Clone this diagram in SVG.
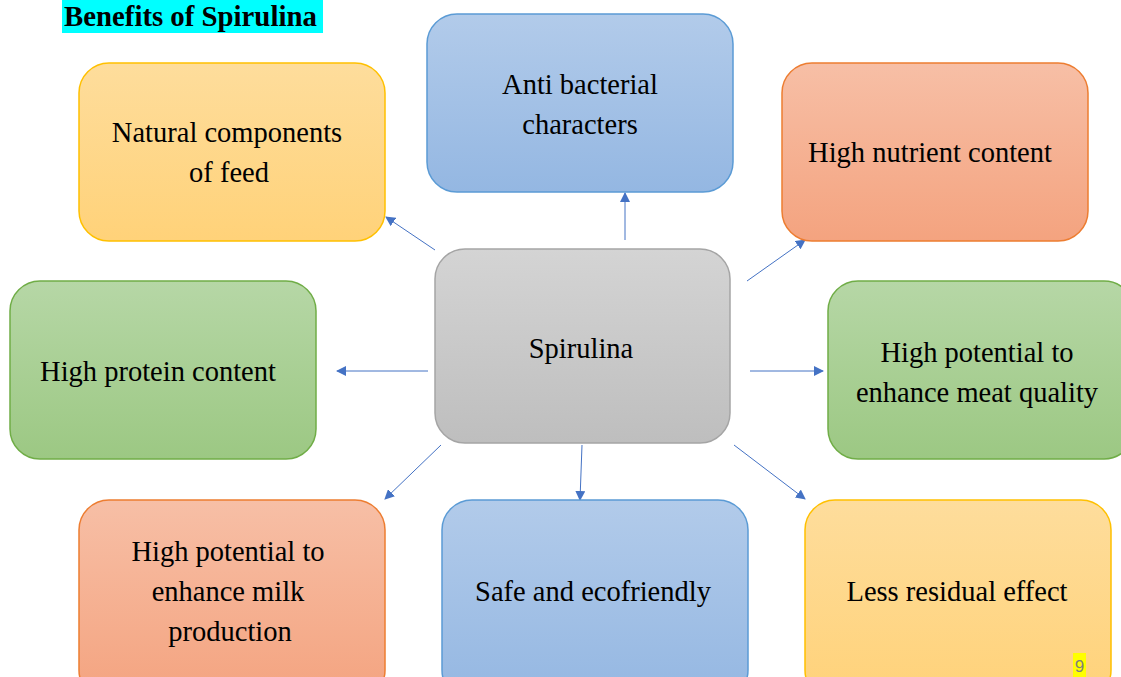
<svg xmlns="http://www.w3.org/2000/svg" width="1121" height="677" viewBox="0 0 1121 677">
<defs>
<linearGradient id="gY" x1="0" y1="0" x2="0" y2="1"><stop offset="0" stop-color="#fedd9c"/><stop offset="1" stop-color="#ffd279"/></linearGradient>
<linearGradient id="gB" x1="0" y1="0" x2="0" y2="1"><stop offset="0" stop-color="#b2cbea"/><stop offset="1" stop-color="#94b7e2"/></linearGradient>
<linearGradient id="gO" x1="0" y1="0" x2="0" y2="1"><stop offset="0" stop-color="#f7bfa6"/><stop offset="1" stop-color="#f4a37f"/></linearGradient>
<linearGradient id="gG" x1="0" y1="0" x2="0" y2="1"><stop offset="0" stop-color="#b6d7a6"/><stop offset="1" stop-color="#9cc883"/></linearGradient>
<linearGradient id="gS" x1="0" y1="0" x2="0" y2="1"><stop offset="0" stop-color="#d4d4d4"/><stop offset="1" stop-color="#bebebe"/></linearGradient>
<marker id="arr" viewBox="0 0 10 10" refX="9" refY="5" markerWidth="10" markerHeight="10" markerUnits="userSpaceOnUse" orient="auto"><path d="M0,0 L10,5 L0,10 z" fill="#4472c4"/></marker>
</defs>
<style>
.t{font-family:"Liberation Serif","Times New Roman",serif;font-size:28.5px;fill:#000;text-anchor:middle}
.y{fill:url(#gY);stroke:#ffc000;stroke-width:1.5}
.b{fill:url(#gB);stroke:#5b9bd5;stroke-width:1.5}
.o{fill:url(#gO);stroke:#ed7d31;stroke-width:1.5}
.g{fill:url(#gG);stroke:#70ad47;stroke-width:1.5}
.s{fill:url(#gS);stroke:#a5a5a5;stroke-width:1.5}
.c{stroke:#4472c4;stroke-width:1;fill:none;marker-end:url(#arr)}
</style>
<rect width="1121" height="677" fill="#fff"/>
<g id="title">
<rect x="62" y="0" width="261" height="33" fill="#00ffff"/>
<text x="64" y="26" font-family="Liberation Serif,'Times New Roman',serif" font-weight="bold" font-size="28.8" fill="#000">Benefits of Spirulina</text>
</g>
<g id="connectors">
<line class="c" x1="435" y1="250" x2="386" y2="217"/>
<line class="c" x1="625" y1="240" x2="625" y2="193"/>
<line class="c" x1="747" y1="281" x2="805" y2="240"/>
<line class="c" x1="428" y1="371" x2="337" y2="371"/>
<line class="c" x1="750" y1="371" x2="823" y2="371"/>
<line class="c" x1="441" y1="445" x2="385" y2="499"/>
<line class="c" x1="582" y1="445" x2="580" y2="500"/>
<line class="c" x1="734" y1="445" x2="805" y2="499"/>
</g>
<g id="natural"><rect class="y" x="79" y="63" width="306" height="178" rx="30"/><text class="t" x="227" y="142">Natural components</text><text class="t" x="229" y="182">of feed</text></g>
<g id="antibacterial"><rect class="b" x="427" y="14" width="306" height="178" rx="30"/><text class="t" x="580" y="94">Anti bacterial</text><text class="t" x="580" y="134">characters</text></g>
<g id="nutrient"><rect class="o" x="782" y="63" width="306" height="178" rx="30"/><text class="t" x="930" y="162">High nutrient content</text></g>
<g id="protein"><rect class="g" x="10" y="281" width="306" height="178" rx="30"/><text class="t" x="158" y="381">High protein content</text></g>
<g id="spirulina"><rect class="s" x="435" y="249" width="295" height="194" rx="30"/><text class="t" x="581" y="358">Spirulina</text></g>
<g id="meat"><rect class="g" x="828" y="281" width="306" height="178" rx="30"/><text class="t" x="977" y="362">High potential to</text><text class="t" x="977" y="402">enhance meat quality</text></g>
<g id="milk"><rect class="o" x="79" y="500" width="306" height="200" rx="30"/><text class="t" x="228" y="561">High potential to</text><text class="t" x="228" y="601">enhance milk</text><text class="t" x="230" y="641">production</text></g>
<g id="safe"><rect class="b" x="442" y="500" width="306" height="200" rx="30"/><text class="t" x="593" y="601">Safe and ecofriendly</text></g>
<g id="residual"><rect class="y" x="805" y="500" width="306" height="200" rx="30"/><text class="t" x="957" y="601">Less residual effect</text></g>
<g id="pagenum"><rect x="1073" y="653" width="13" height="24" fill="#ffff00"/><text x="1079.5" y="672" font-family="Liberation Sans,Arial,sans-serif" font-size="17" fill="#7f7f7f" text-anchor="middle">9</text></g>
</svg>
